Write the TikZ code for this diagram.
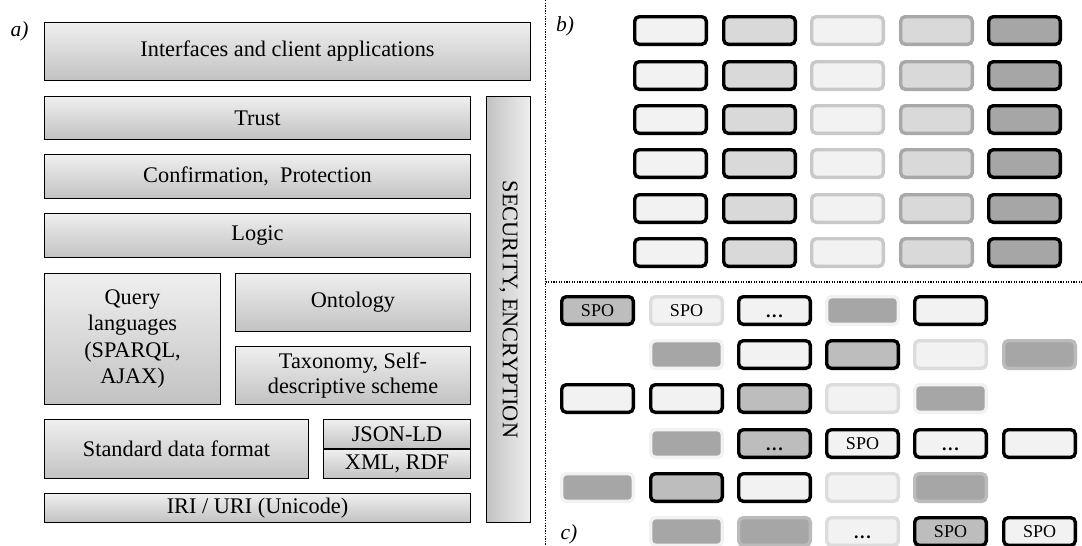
\documentclass[tikz,border=0pt]{standalone}
\usepackage{fontspec}
\setmainfont{Liberation Serif}
\definecolor{gtop}{HTML}{EFEFEF}
\definecolor{gbot}{HTML}{C2C2C2}
\definecolor{cLt}{HTML}{F2F2F2}
\definecolor{cMd}{HTML}{D9D9D9}
\definecolor{cBd}{HTML}{BDBDBD}
\definecolor{cDk}{HTML}{A6A6A6}
\definecolor{bLt}{HTML}{C8C8C8}
\definecolor{bMd}{HTML}{A8A8A8}
\definecolor{bHl}{HTML}{DCDCDC}
\definecolor{bSd}{HTML}{BBBBBB}
\newcommand{\mydots}{\vphantom{SPO}\raisebox{-2pt}{\textbf{.\kern1.6pt.\kern1.6pt.}}}
\begin{document}
\begin{tikzpicture}[x=1pt,y=-1pt,
  layer/.style={draw=black, line width=1.2pt, top color=gtop, bottom color=gbot,
    inner sep=0pt, align=center, font=\fontsize{22.3}{26.5}\selectfont},
  cell/.style={rounded corners=4.5pt, line width=3.4pt, minimum width=71.6pt,
    minimum height=27.6pt, inner sep=0pt, font=\fontsize{18}{21}\selectfont},
  kL/.style={cell, fill=cLt, draw=black},
  kM/.style={cell, fill=cMd, draw=black},
  kB/.style={cell, fill=cBd, draw=black},
  kD/.style={cell, fill=cDk, draw=black},
  lL/.style={cell, fill=cLt, draw=bLt},
  lM/.style={cell, fill=cMd, draw=bMd},
  hD/.style={cell, fill=cDk, draw=cLt},
  hL/.style={cell, fill=cLt, draw=bHl},
  sD/.style={cell, fill=cDk, draw=bSd},
  lbl/.style={font=\fontsize{21.5}{24}\selectfont\itshape, inner sep=0pt, anchor=base},
  sep/.style={line width=1.2pt, dash pattern=on 1.3pt off 1.3pt}
]
\useasboundingbox (0,0) rectangle (1082,546);

% ---- panel a ----
\node[lbl] (la) at (19.5,36) {a)};
\node[layer, minimum width=485.8pt, minimum height=57.8pt] (inter) at (287.5,51.5) {Interfaces and client applications};
\node[layer, minimum width=425.8pt, minimum height=42.8pt] (trust) at (257.5,118) {Trust};
\node[layer, minimum width=425.8pt, minimum height=43.8pt] (conf) at (257.5,176.5) {Confirmation,\ \ Protection};
\node[layer, minimum width=425.8pt, minimum height=43.8pt] (logic) at (257.5,235.5) {Logic};
\node[layer, minimum width=175.8pt, minimum height=130.8pt] (query) at (132.5,339) {Query\\languages\\(SPARQL,\\AJAX)};
\node[layer, minimum width=234.8pt, minimum height=57.8pt] (onto) at (353,302.5) {Ontology};
\node[layer, minimum width=234.8pt, minimum height=57.8pt, font=\fontsize{22.3}{25}\selectfont] (taxo) at (353,375.5) {Taxonomy, Self-\\descriptive scheme};
\node[layer, minimum width=263.8pt, minimum height=58.8pt] (std) at (176.5,449) {Standard data format};
\node[layer, minimum width=146.8pt, minimum height=28.8pt] (json) at (397,434) {JSON-LD};
\node[layer, minimum width=146.8pt, minimum height=28.8pt] (xml) at (397,464) {XML, RDF};
\node[layer, minimum width=425.8pt, minimum height=28.8pt] (iri) at (257.5,508) {IRI / URI (Unicode)};
\node[draw=black, line width=1.2pt, left color=gbot, right color=gtop, inner sep=0pt, minimum width=43.8pt, minimum height=425.8pt] (sec) at (508.5,309.5) {};
\node[font=\fontsize{22.3}{26.5}\selectfont, rotate=-90, inner sep=0pt] (sectxt) at (sec.center) {SECURITY, ENCRYPTION};

% ---- separators ----
\coordinate (vt) at (545.5,0);
\coordinate (vb) at (545.5,546);
\coordinate (hl) at (545.5,282);
\coordinate (hr) at (1082,282);
\draw[sep] (vt) -- (vb);
\draw[sep] (hl) -- (hr);

% ---- panel b ----
\node[lbl] (lb) at (565,31) {b)};
\foreach \r/\y in {1/30.5,2/75.5,3/119.5,4/163.5,5/208.5,6/252.5}{
  \node[kL] (b\r a) at (670.5,\y) {};
  \node[kM] (b\r b) at (759.5,\y) {};
  \node[lL] (b\r c) at (847.5,\y) {};
  \node[lM] (b\r d) at (936.5,\y) {};
  \node[kD] (b\r e) at (1024.5,\y) {};
}

% ---- panel c ----
\node[lbl] (lc) at (569,539) {c)};
% row 1
\node[kB] (c1a) at (597.5,310.5) {SPO};
\node[hL] (c1b) at (686.5,310.5) {SPO};
\node[kL] (c1c) at (774.5,310.5) {\mydots};
\node[hD] (c1d) at (862.5,310.5) {};
\node[kL] (c1e) at (950.5,310.5) {};
% row 2
\node[hD] (c2b) at (686.5,354.5) {};
\node[kL] (c2c) at (774.5,354.5) {};
\node[kB] (c2d) at (862.5,354.5) {};
\node[hL] (c2e) at (950.5,354.5) {};
\node[sD] (c2f) at (1039.5,354.5) {};
% row 3
\node[kL] (c3a) at (597.5,398.5) {};
\node[kL] (c3b) at (686.5,398.5) {};
\node[kB] (c3c) at (774.5,398.5) {};
\node[hL] (c3d) at (862.5,398.5) {};
\node[hD] (c3e) at (950.5,398.5) {};
% row 4
\node[hD] (c4b) at (686.5,443.5) {};
\node[kB] (c4c) at (774.5,443.5) {\mydots};
\node[kL] (c4d) at (862.5,443.5) {SPO};
\node[kL] (c4e) at (950.5,443.5) {\mydots};
\node[kL] (c4f) at (1039.5,443.5) {};
% row 5
\node[hD] (c5a) at (597.5,487.5) {};
\node[kB] (c5b) at (686.5,487.5) {};
\node[kL] (c5c) at (774.5,487.5) {};
\node[hL] (c5d) at (862.5,487.5) {};
\node[sD] (c5e) at (950.5,487.5) {};
% row 6
\node[hD] (c6b) at (686.5,531.5) {};
\node[sD] (c6c) at (774.5,531.5) {};
\node[hL] (c6d) at (862.5,531.5) {\mydots};
\node[kB] (c6e) at (950.5,531.5) {SPO};
\node[kL] (c6f) at (1039.5,531.5) {SPO};
\end{tikzpicture}
\end{document}
